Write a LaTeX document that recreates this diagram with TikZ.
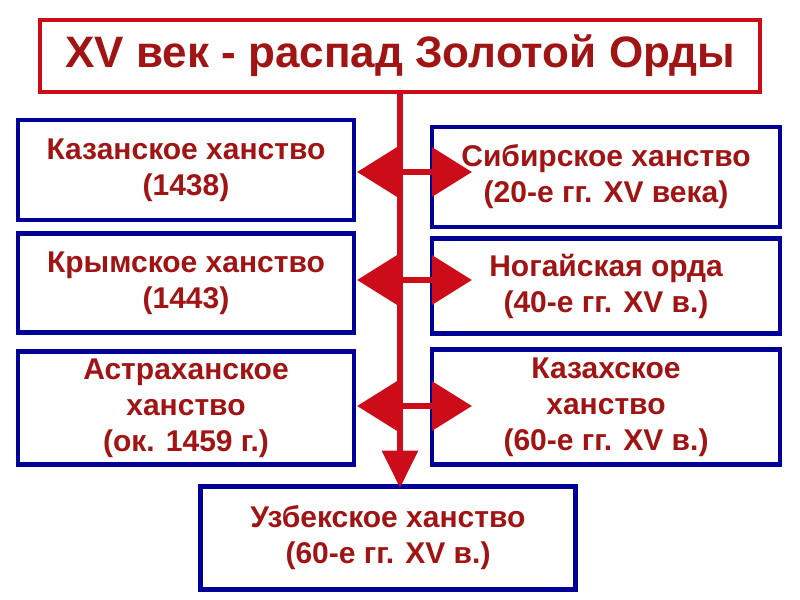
\documentclass[tikz,border=0pt]{standalone}
\usepackage{fontspec}
\setmainfont{Liberation Sans}
\usetikzlibrary{arrows.meta}
\definecolor{boxblue}{rgb}{0.0, 0.0, 0.6}
\definecolor{textred}{rgb}{0.63, 0.08, 0.08}
\definecolor{linered}{rgb}{0.8, 0.05, 0.1}
\tikzstyle{khanate} = [draw=boxblue,line width=3.5pt,fill=white,text=textred,font=\bfseries\fontsize{22.5}{27}\selectfont,align=center,inner sep=0pt]
\tikzstyle{link} = [linered,line width=5pt,{Triangle[length=30pt,width=36pt]}-{Triangle[length=30pt,width=36pt]}]

\begin{document}
\begin{tikzpicture}[x=0.75pt,y=-0.75pt]
		\useasboundingbox[fill=white](0,0) rectangle (800,600);
		\node [draw=linered,line width=3.5pt,fill=white,text=textred,font=\bfseries\fontsize{33}{38}\selectfont,minimum width=540pt,minimum height=54pt](title) at (400,56){XV век - распад Золотой Орды};
		\node [khanate,minimum width=252pt,minimum height=75pt](kazan) at (186,170){Казанское ханство\\(1438)};
		\node [khanate,minimum width=252pt,minimum height=74pt](crimea) at (186,283){Крымское ханство\\(1443)};
		\node [khanate,minimum width=252pt,minimum height=85pt](astr) at (186,408){Астраханское\\ханство\\(ок. 1459 г.)};
		\node [khanate,minimum width=261pt,minimum height=75pt](sibir) at (606,177){Сибирское ханство\\(20-е гг. XV века)};
		\node [khanate,minimum width=261pt,minimum height=71pt](nogai) at (606,286){Ногайская орда\\(40-е гг. XV в.)};
		\node [khanate,minimum width=261pt,minimum height=86pt](kazakh) at (606,407){Казахское\\ханство\\(60-е гг. XV в.)};
		\node [khanate,minimum width=281pt,minimum height=77pt](uzbek) at (388,538){Узбекское ханство\\(60-е гг. XV в.)};
		
		\coordinate (a1) at (357,172); \coordinate (b1) at (472,172);
		\coordinate (a2) at (357,280); \coordinate (b2) at (472,280);
		\coordinate (a3) at (357,406); \coordinate (b3) at (472,406);
		\coordinate (trunk) at (400,488);
		\draw[linered,line width=5pt,-{Triangle[length=28pt,width=26pt]}](title.south)--(trunk);
		\draw[link](a1)--(b1);
		\draw[link](a2)--(b2);
		\draw[link](a3)--(b3);
		\end{tikzpicture}
\end{document}
